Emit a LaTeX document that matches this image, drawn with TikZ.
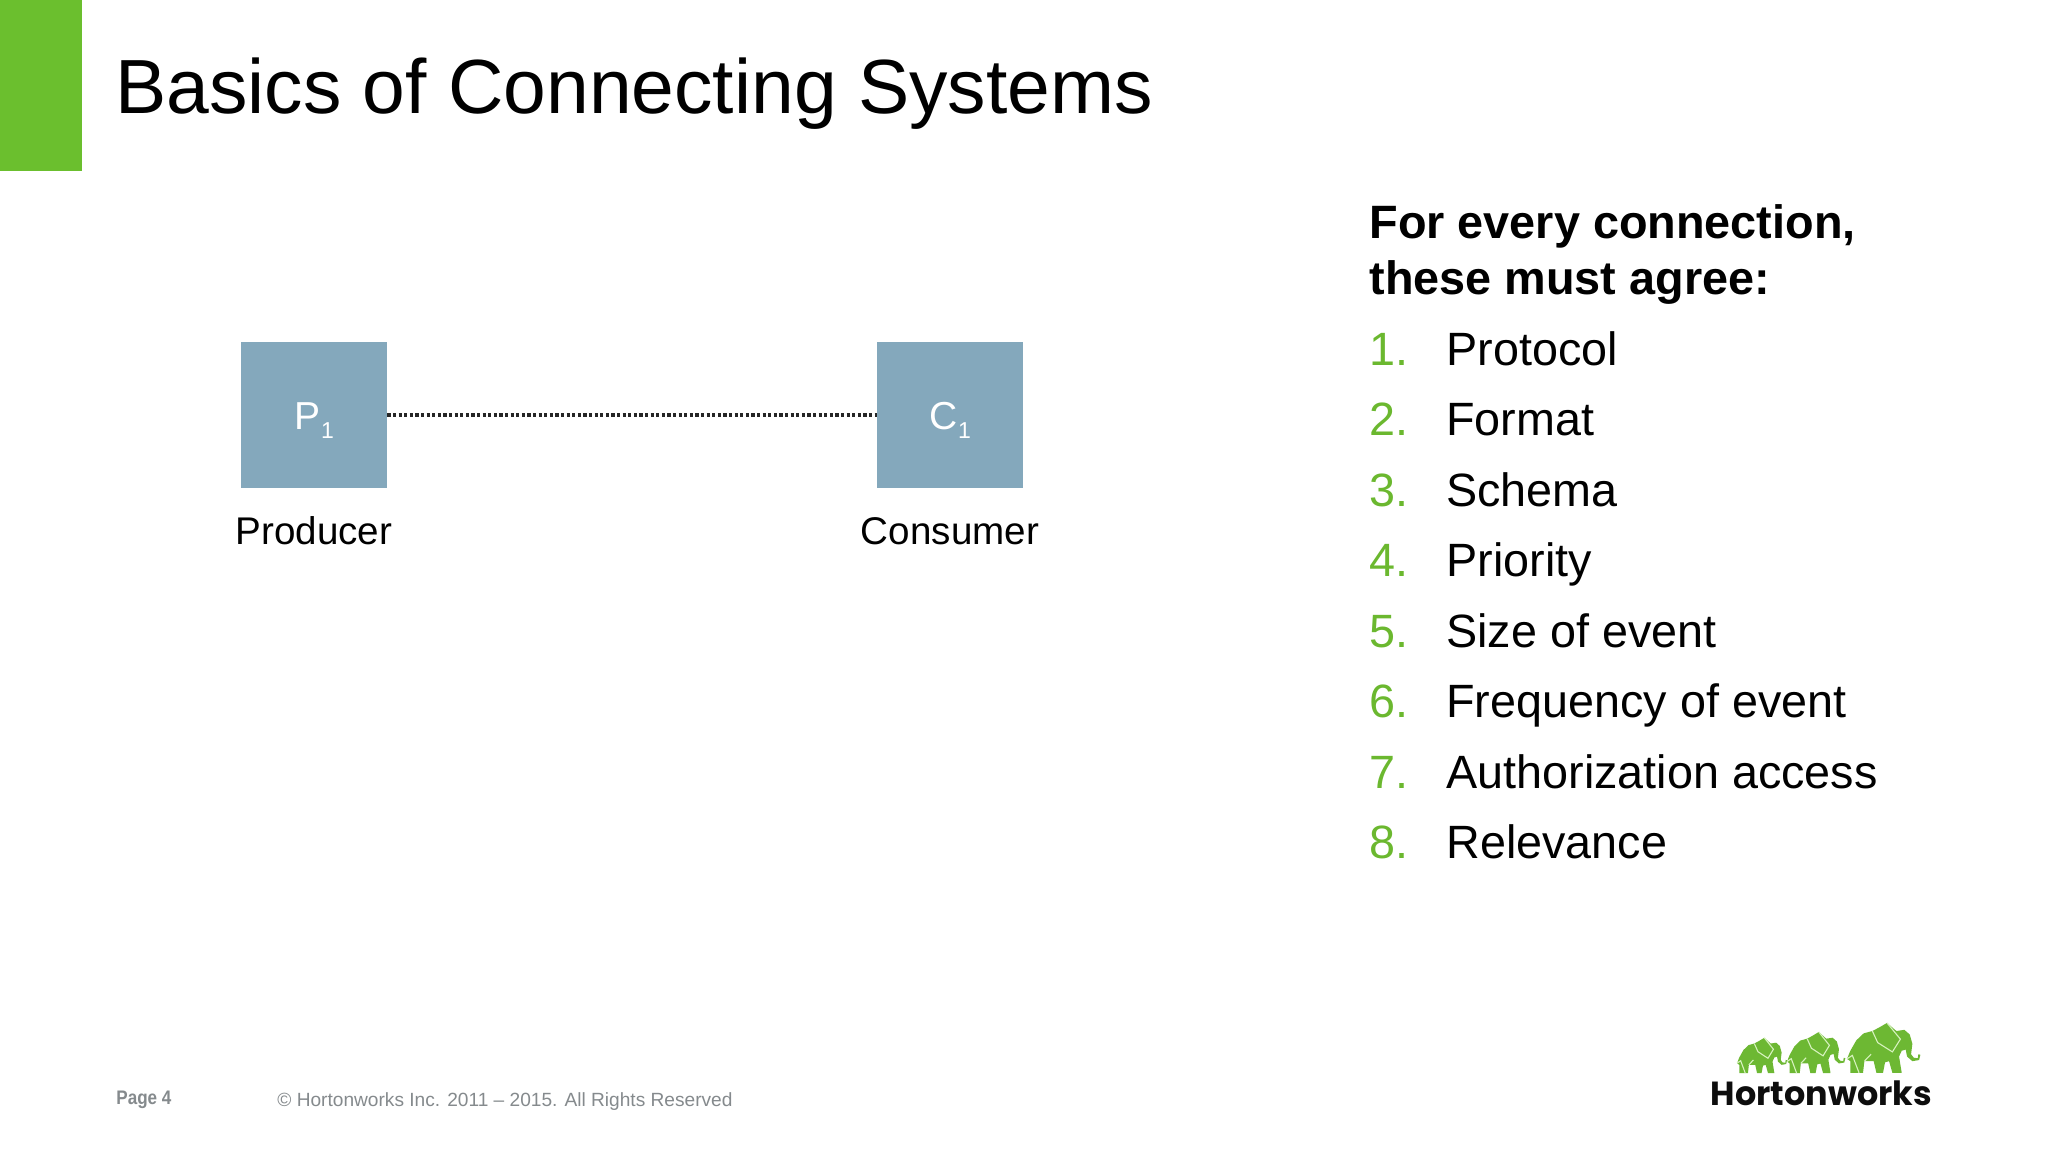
\documentclass[tikz,border=0pt]{standalone}
\usepackage{fontspec}
\setmainfont{Liberation Sans}
\newfontfamily\logofont{Poppins}
\definecolor{hwgreen}{HTML}{6BBF2E}
\definecolor{listgreen}{HTML}{6BB82F}
\definecolor{boxblue}{HTML}{84A8BC}
\definecolor{footgray}{HTML}{858A8D}
\definecolor{elegreen}{HTML}{6DB833}
\definecolor{elelight}{HTML}{D6F2BE}
\tikzset{
  txt/.style={inner sep=0pt,anchor=base west,text=black},
  titletxt/.style={txt,font=\fontsize{38.4}{38.4}\selectfont},
  headtxt/.style={txt,font=\fontsize{23.4}{23.4}\selectfont\bfseries},
  itemtxt/.style={txt,font=\fontsize{23.36}{23.36}\selectfont},
  numtxt/.style={itemtxt,text=listgreen},
  boxnode/.style={fill=boxblue,minimum size=73pt,inner sep=0pt,text=white,font=\fontsize{19.5}{19.5}\selectfont},
  captxt/.style={inner sep=0pt,anchor=base,text=black,font=\fontsize{19.3}{19.3}\selectfont},
  foot/.style={inner sep=0pt,anchor=base west,text=footgray,font=\fontsize{9.56}{9.56}\selectfont},
  link/.style={line width=1.8pt,black!85,dash pattern=on 1.6pt off 1.2pt},
}
% elephant drawn in coordinates of the big animal of the logo
\newcommand{\elephantshape}[4]{%
\begin{scope}[shift={(#1,#2)},xscale=#3,yscale=#4]
\fill[elegreen] (0,-2) -- (5,-16) -- (14,-34) -- (25,-46) -- (38,-50) -- (48,-56) -- (60,-64) -- (74,-50)
  -- (86,-52) -- (94,-44) -- (98,-28) -- (96,-10) -- (100,-4) -- (106,-3) -- (107,-10) -- (110,-9) -- (108,0) -- (98,2)
  -- (90,-6) -- (88,-18) -- (82,-16) -- (78,-6) -- (82,22) -- (68,22) -- (63,2) -- (57,4) -- (54,22) -- (44,22)
  -- (40,2) -- (26,2) -- (24,22) -- (5,22) -- (5,2) -- cycle;
\draw[elelight,line width=.55pt] (38,-50) -- (46,-30) -- (68,-14) -- (80,-36) -- (60,-64);
\draw[elelight,line width=.55pt] (0,-2) -- (8,-8) -- (18,22);
\draw[elelight,line width=.55pt] (26,2) -- (36,-10);
\end{scope}}
\begin{document}
\begin{tikzpicture}[x=.5pt,y=-.5pt]
\useasboundingbox (0,0) rectangle (2048,1152);
\fill[white] (0,0) rectangle (2048,1152);
\fill[hwgreen] (0,0) rectangle (82,171);
\node[titletxt] (title) at (115,113) {Basics of Connecting Systems};

\node[boxnode] (p) at (314,415) {\smash{\raisebox{-7pt}{P\raisebox{-4.5pt}{\fontsize{11.5}{11.5}\selectfont\kern.4pt 1}}}};
\node[boxnode] (c) at (950,415) {\smash{\raisebox{-7pt}{C\raisebox{-4.5pt}{\fontsize{11.5}{11.5}\selectfont\kern.4pt 1}}}};
\draw[link] (p.east) -- (c.west);
\node[captxt] (pl) at (314,544) {Producer};
\node[captxt] (cl) at (950,544) {Consumer};

\node[headtxt] (h1) at (1369,238) {For every connection,};
\node[headtxt] (h2) at (1369,294) {these must agree:};
\foreach \n/\t/\y in {1/Protocol/365,2/Format/435.5,3/Schema/506,4/Priority/576.5,5/Size of event/647,6/Frequency of event/717.5,7/Authorization access/788,8/Relevance/858.5}{
  \node[numtxt] (n\n) at (1369,\y) {\n.};
  \node[itemtxt] (i\n) at (1446,\y) {\t};
}

\node[foot,font=\fontsize{9.8}{9.8}\selectfont\bfseries] (page) at (116,1104) {\scalebox{.87}[1]{Page 4}};
\node[foot] (copy) at (277,1106) {© Hortonworks Inc. 2011 – 2015. All Rights Reserved};

\elephantshape{1737}{1064}{.455}{.41}
\elephantshape{1787}{1062.5}{.53}{.477}
\elephantshape{1847}{1060}{.667}{.58}
\node[inner sep=0pt,anchor=base west,text=black!95,font=\logofont\fontsize{16.7}{16.7}\selectfont\bfseries] (logo) at (1710.5,1105) {Hortonworks};
\end{tikzpicture}
\end{document}
